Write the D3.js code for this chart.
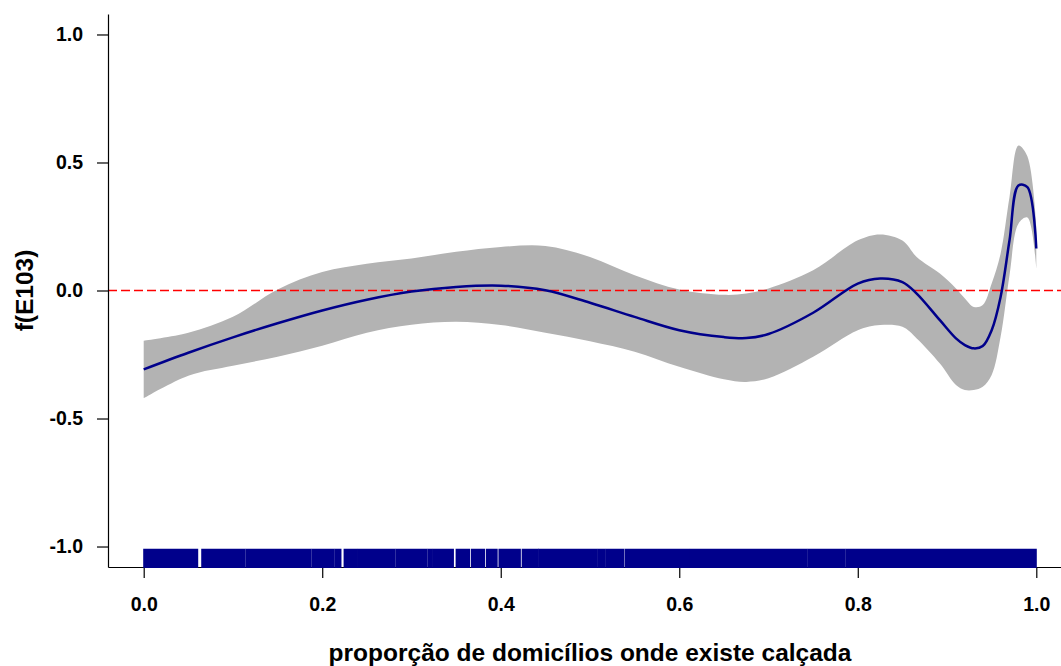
<!DOCTYPE html>
<html>

<head>
  <meta charset="utf-8">
  <title>f(E103)</title>
  <style>
    body { margin: 0; background: #fff; }
    text { font-family: "Liberation Sans", Arial, Helvetica, sans-serif; font-weight: bold; }
  </style>
</head>

<body>
  <div class="chart-container"></div>
  <script src="https://cdn.jsdelivr.net/npm/d3@7"></script>
  <script>
    // smooth term estimate
    var xGrid = [0, 0.05, 0.10, 0.15, 0.20, 0.25, 0.30, 0.35, 0.40, 0.45, 0.50, 0.55, 0.60, 0.65, 0.675,
      0.70, 0.75, 0.80, 0.825, 0.85, 0.866, 0.892, 0.91, 0.92, 0.93, 0.94, 0.95, 0.96, 0.97, 0.98, 0.99, 1.00];
    var fitValues = [-0.308, -0.243, -0.183, -0.128, -0.078, -0.036, -0.004, 0.014, 0.019, 0.001, -0.048, -0.103,
      -0.155, -0.182, -0.186, -0.170, -0.087, 0.027, 0.047, 0.033, -0.012, -0.116, -0.187, -0.213, -0.226,
      -0.217, -0.155, -0.025, 0.196, 0.410, 0.404, 0.164];
    var upperValues = [-0.196, -0.165, -0.103, 0.004, 0.072, 0.104, 0.125, 0.151, 0.170, 0.174, 0.131, 0.060,
      0.004, -0.017, -0.012, 0.008, 0.079, 0.196, 0.219, 0.195, 0.131, 0.066, 0.008, -0.031, -0.064,
      -0.057, 0.027, 0.144, 0.365, 0.566, 0.524, 0.250];
    var lowerValues = [-0.421, -0.333, -0.294, -0.259, -0.216, -0.165, -0.134, -0.122, -0.135, -0.165, -0.198,
      -0.239, -0.298, -0.347, -0.357, -0.343, -0.259, -0.155, -0.135, -0.142, -0.187, -0.285, -0.369, -0.389,
      -0.389, -0.376, -0.330, -0.181, 0.060, 0.261, 0.285, 0.086];

    // rug: runs of observations (start, end) with the white gaps between them
    var rugStart = [0, 0.065, 0.1145, 0.1885, 0.2145, 0.2245, 0.2405, 0.2825, 0.3185, 0.3245, 0.350, 0.367,
      0.384, 0.398, 0.424, 0.4425, 0.5085, 0.5175, 0.5395, 0.6125, 0.7445, 0.7865];
    var rugEnd = [0.0605, 0.1135, 0.1875, 0.2135, 0.2210, 0.2395, 0.2815, 0.3175, 0.3235, 0.347, 0.365, 0.382,
      0.396, 0.422, 0.4420, 0.5075, 0.5165, 0.5380, 0.6115, 0.7435, 0.7855, 1.0];

    var xTicks = [0, 0.2, 0.4, 0.6, 0.8, 1.0];
    var yTicks = [-1.0, -0.5, 0, 0.5, 1.0];
    var xTitle = 'proporção de domicílios onde existe calçada';
    var yTitle = 'f(E103)';

    var width = 1061, height = 666;
    var margin = { left: 108, right: 1072, top: 14, bottom: 567 };

    var data = xGrid.map(function (d, i) {
      return { x: d, fit: fitValues[i], up: upperValues[i], lo: lowerValues[i] };
    });

    var x = d3.scaleLinear().domain([-0.04, 1.04]).range([margin.left, margin.right]);
    var y = d3.scaleLinear().domain([-1.08, 1.08]).range([margin.bottom, margin.top]);

    var svg = d3.select('.chart-container').append('svg')
      .attr('width', width)
      .attr('height', height);

    var smooth = d3.curveCatmullRom.alpha(0.5);

    // confidence band
    var band = d3.area()
      .curve(smooth)
      .x(function (d) { return x(d.x); })
      .y0(function (d) { return y(d.lo); })
      .y1(function (d) { return y(d.up); });

    svg.append('path')
      .attr('d', band(data))
      .style('fill', '#b3b3b3');

    // reference line at zero
    svg.append('line')
      .attr('x1', margin.left).attr('x2', width)
      .attr('y1', y(0)).attr('y2', y(0))
      .style('stroke', '#ff0000')
      .style('stroke-width', 1.5)
      .style('stroke-dasharray', '9,4');

    var line = d3.line()
      .curve(smooth)
      .x(function (d) { return x(d.x); })
      .y(function (d) { return y(d.fit); });

    svg.append('path')
      .attr('d', line(data))
      .style('fill', 'none')
      .style('stroke', '#00008b')
      .style('stroke-width', 2.5);

    // axes
    var yAxis = d3.axisLeft(y)
      .tickValues(yTicks)
      .tickSize(11)
      .tickSizeOuter(0)
      .tickPadding(14)
      .tickFormat(function (d) { return d.toFixed(1); });

    var xAxis = d3.axisBottom(x)
      .tickValues(xTicks)
      .tickSize(11)
      .tickSizeOuter(0)
      .tickPadding(19)
      .tickFormat(function (d) { return d.toFixed(1); });

    svg.append('g')
      .attr('transform', 'translate(' + margin.left + ',0)')
      .call(yAxis);

    svg.append('g')
      .attr('transform', 'translate(0,' + margin.bottom + ')')
      .call(xAxis);

    svg.selectAll('.tick text')
      .style('font-size', '19.5px')
      .style('fill', '#000');
    svg.selectAll('.domain, .tick line')
      .style('stroke', '#000')
      .style('stroke-width', 1.2);

    // rug
    var rugTop = margin.bottom - 0.033 * (margin.bottom - margin.top);
    svg.append('g')
      .selectAll('rect')
      .data(rugStart)
      .join('rect')
      .attr('x', function (d) { return x(d) - 0.5; })
      .attr('width', function (d, i) { return x(rugEnd[i]) - x(d) + 1; })
      .attr('y', rugTop)
      .attr('height', margin.bottom + 1 - rugTop)
      .style('fill', '#00008b');

    // titles
    svg.append('text')
      .attr('x', (margin.left + margin.right) / 2)
      .attr('y', 661)
      .attr('text-anchor', 'middle')
      .style('font-size', '24.5px')
      .text(xTitle);

    svg.append('text')
      .attr('transform', 'translate(33,' + y(0) + ') rotate(-90)')
      .attr('text-anchor', 'middle')
      .style('font-size', '24.5px')
      .text(yTitle);
  </script>
</body>

</html>
